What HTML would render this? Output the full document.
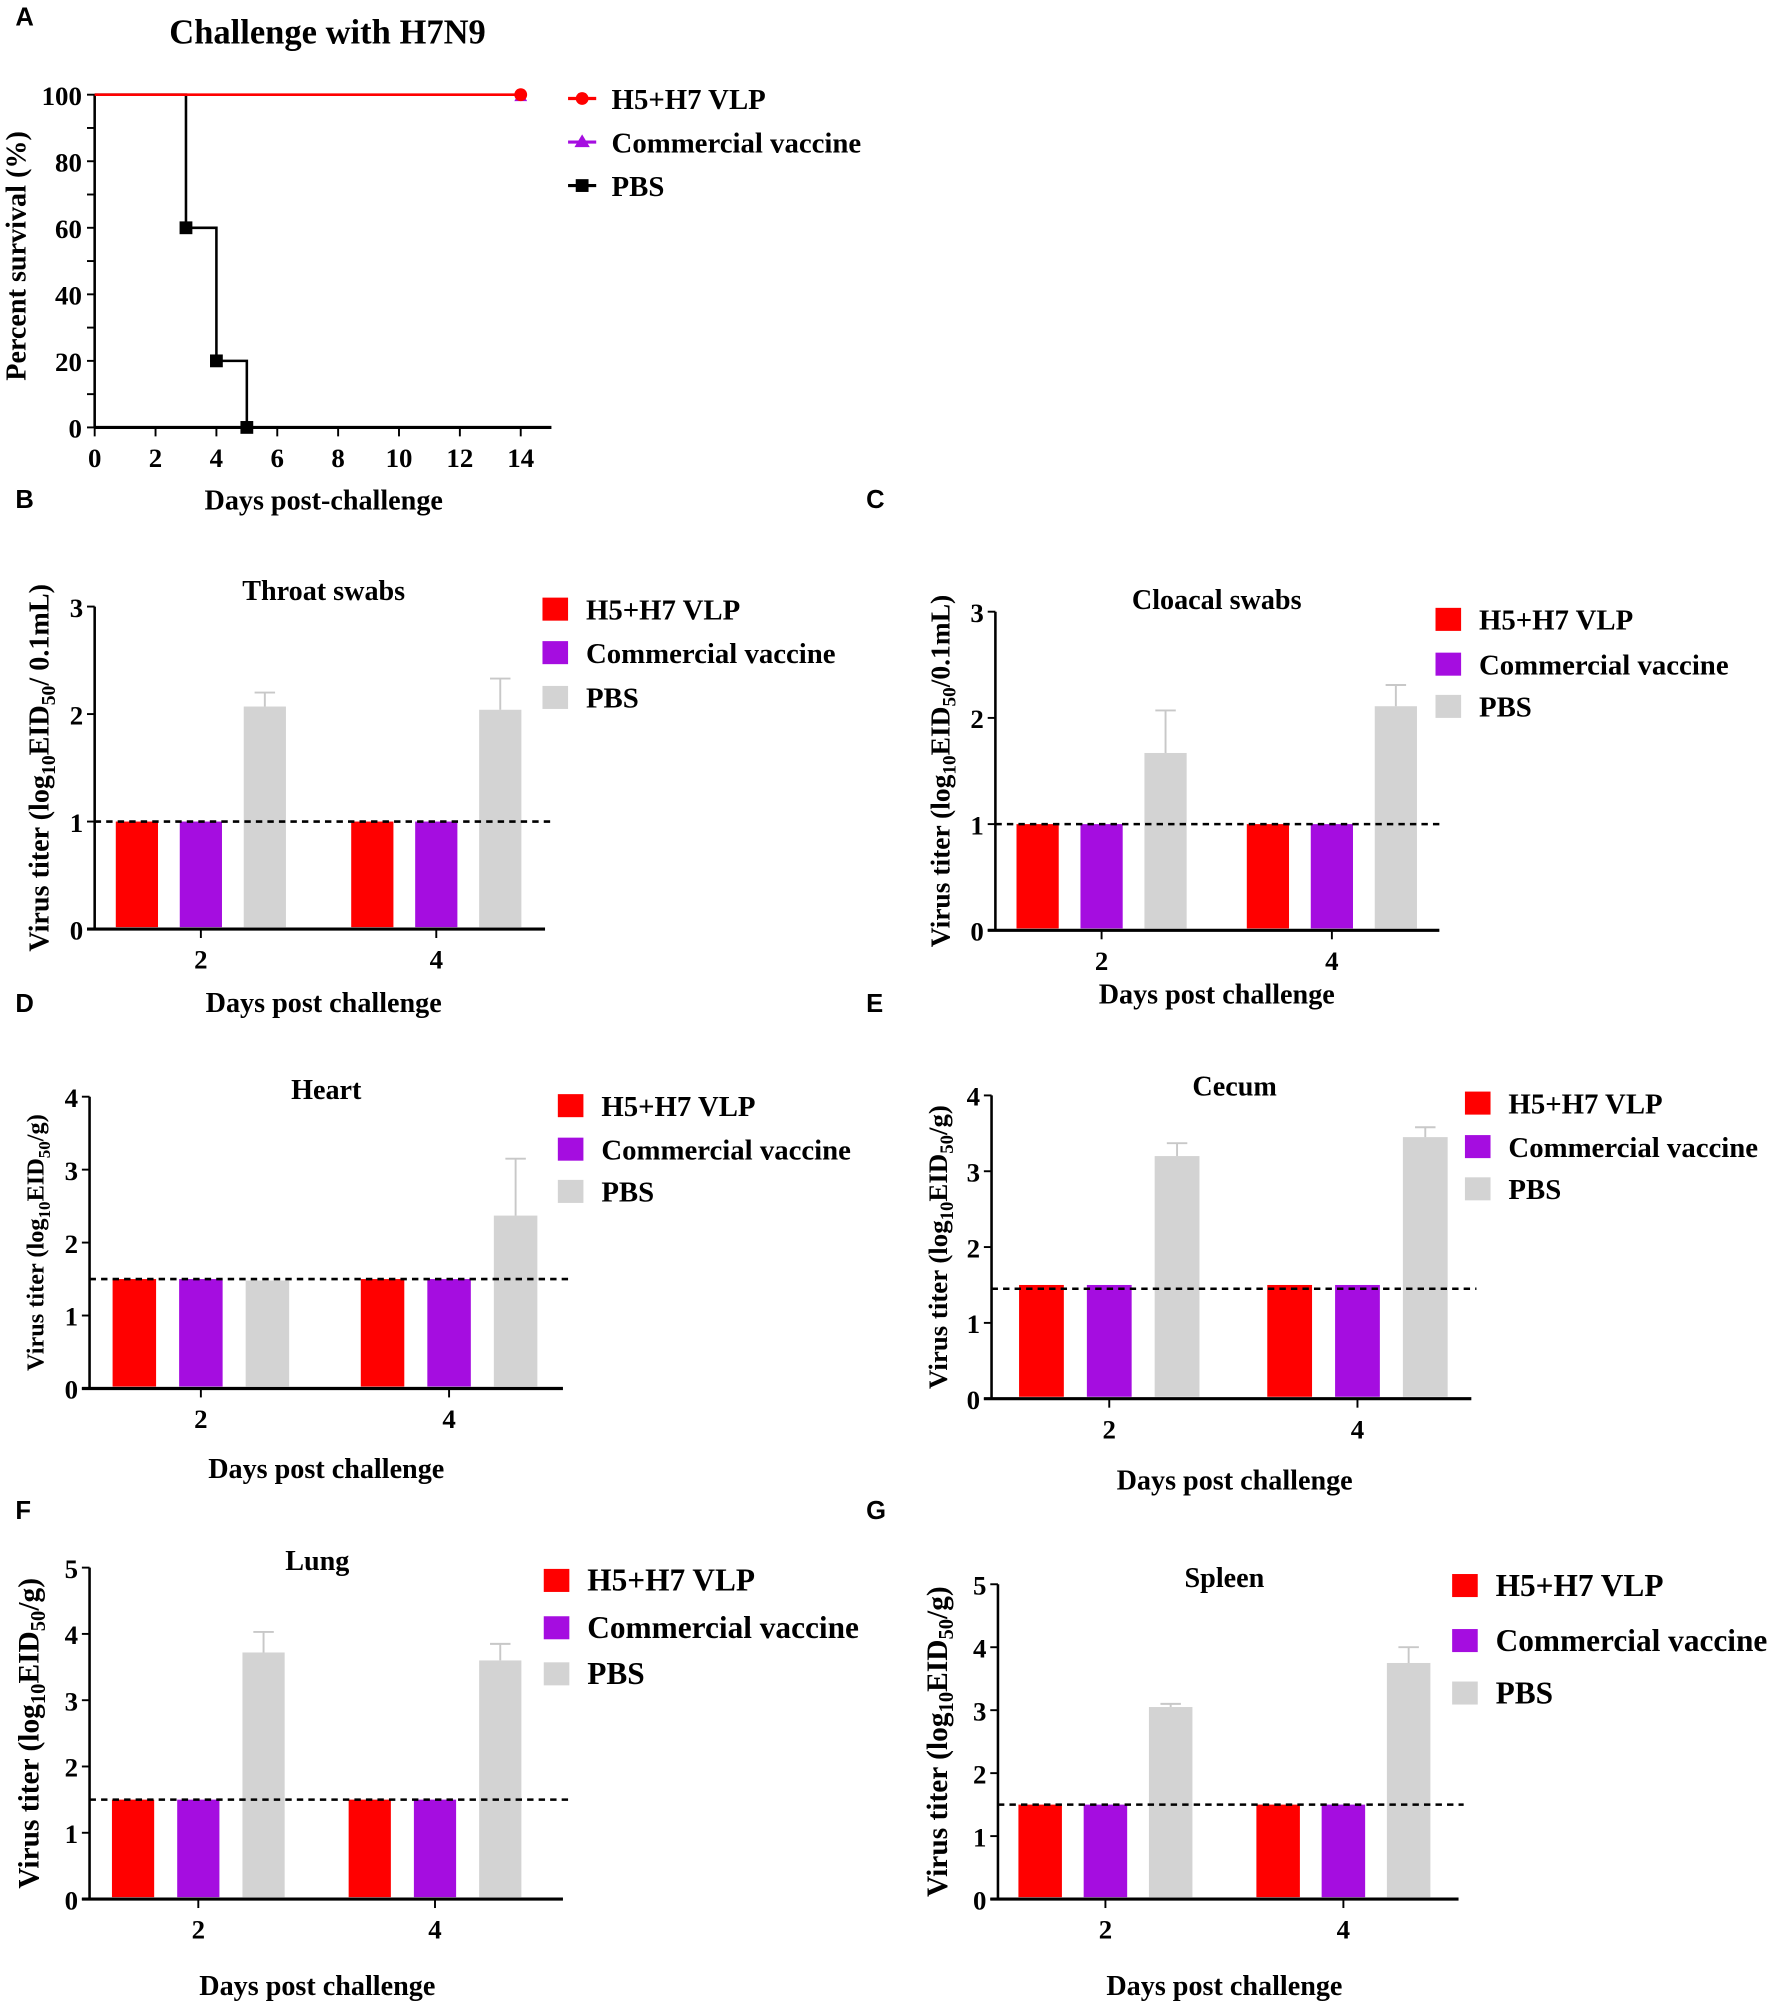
<!DOCTYPE html>
<html><head><meta charset="utf-8"><style>
html,body{margin:0;padding:0;background:#fff;}
svg{display:block;}
text{font-family:"Liberation Serif",serif;font-weight:bold;fill:#000;}
.lt{font-family:"Liberation Sans",sans-serif;font-weight:bold;font-size:20px;}
</style></head><body>
<svg id="fig" xmlns="http://www.w3.org/2000/svg" width="1772" height="2004" viewBox="0 0 1385 1566" preserveAspectRatio="none">
<text class="lt" x="12" y="20">A</text>
<text class="lt" x="12" y="397">B</text>
<text class="lt" x="677" y="397">C</text>
<text class="lt" x="12" y="791">D</text>
<text class="lt" x="677" y="791">E</text>
<text class="lt" x="12" y="1187">F</text>
<text class="lt" x="677" y="1187">G</text>
</svg>
<script>
// ---- Panel A data ----
const survDays = [0, 3, 4, 5, 14];
const pbsSurvival = [100, 60, 20, 0, 0];
const vlpSurvival = [100, 100];
const vlpDays = [0, 14];
const survXTicks = [0, 2, 4, 6, 8, 10, 12, 14];
const survYTicks = [0, 20, 40, 60, 80, 100];
// ---- Bar panels data ----
const dayCategories = ["2", "4"];
const groupNames = ["H5+H7 VLP", "Commercial vaccine", "PBS"];
const throatVlp = [1, 1], throatCom = [1, 1], throatPbs = [2.07, 2.04], throatErr = [2.2, 2.33];
const cloacalVlp = [1, 1], cloacalCom = [1, 1], cloacalPbs = [1.67, 2.11], cloacalErr = [2.07, 2.31];
const heartVlp = [1.5, 1.5], heartCom = [1.5, 1.5], heartPbs = [1.48, 2.37], heartErr = [null, 3.15];
const cecumVlp = [1.5, 1.5], cecumCom = [1.5, 1.5], cecumPbs = [3.2, 3.45], cecumErr = [3.37, 3.58];
const lungVlp = [1.5, 1.5], lungCom = [1.5, 1.5], lungPbs = [3.72, 3.6], lungErr = [4.03, 3.85];
const spleenVlp = [1.5, 1.5], spleenCom = [1.5, 1.5], spleenPbs = [3.05, 3.75], spleenErr = [3.1, 4.0];

const NS = "http://www.w3.org/2000/svg";
const svg = document.getElementById("fig");
function mk(tag, attrs, parent) {
  const e = document.createElementNS(NS, tag);
  for (const k in attrs) e.setAttribute(k, attrs[k]);
  (parent || svg).appendChild(e);
  return e;
}
function txt(x, y, s, size, anchor, parent) {
  const t = mk("text", {x: x, y: y, "font-size": size, "text-anchor": anchor || "middle"}, parent);
  t.textContent = s;
  return t;
}

// ---- Panel A ----
(function () {
  const g = mk("g", {});
  
  
  const x = d => 74 + (d / 14) * 333;
  const y = v => 334 - (v / 100) * 260;
  const title = txt(256, 34, "Challenge with H7N9", 27, "middle", g);
  
  
  mk("line", {x1: 74, y1: y(100), x2: 74, y2: 334, stroke: "#000", "stroke-width": 2}, g);
  mk("line", {x1: 74, y1: 334, x2: 431, y2: 334, stroke: "#000", "stroke-width": 2.5}, g);
  for (let v = 0; v <= 100; v += 10) mk("line", {x1: 68, y1: y(v), x2: 74, y2: y(v), stroke: "#000", "stroke-width": 1.5}, g);
  survYTicks.forEach(v => {
    const t = txt(64, y(v) + 8, String(v), 21, "end", g);
    
    
  });
  survXTicks.forEach(d => {
    mk("line", {x1: x(d), y1: 334, x2: x(d), y2: 341, stroke: "#000", "stroke-width": 1.5}, g);
    const t = txt(x(d), 365, String(d), 21, "middle", g);
    
    
  });
  const xl = txt(253, 398, "Days post-challenge", 22, "middle", g);
  
  
  const yl = txt(0, 0, "Percent survival (%)", 22, "middle", g);
  yl.setAttribute("transform", "translate(20,200) rotate(-90)");
  
  
  let d = "M" + x(survDays[0]) + "," + y(pbsSurvival[0]);
  for (let i = 1; i < survDays.length; i++) {
    d += " H" + x(survDays[i]) + " V" + y(pbsSurvival[i]);
  }
  const pl = mk("path", {d: d, fill: "none", stroke: "#000", "stroke-width": 2}, g);
  
  
  for (let i = 1; i <= 3; i++) {
    const m = mk("rect", {x: x(survDays[i]) - 5, y: y(pbsSurvival[i]) - 5, width: 10, height: 10, fill: "#000"}, g);
    
    
  }
  const rl = mk("line", {x1: x(vlpDays[0]), y1: y(vlpSurvival[0]), x2: x(vlpDays[1]), y2: y(vlpSurvival[1]), stroke: "#ff0000", "stroke-width": 2}, g);
  
  
  const tri = mk("path", {d: `M${x(14)},${y(100) - 4} l5,9 h-10z`, fill: "#a50de0"}, g);
  
  
  const c = mk("circle", {cx: x(14), cy: y(100), r: 5, fill: "#ff0000"}, g);
  
  
  const rows = [77, 111, 145];
  const cols = ["#ff0000", "#a50de0", "#000"];
  rows.forEach((ry, i) => {
    const le = mk("g", {}, g);
    
    
    mk("line", {x1: 444, y1: ry, x2: 466, y2: ry, stroke: cols[i], "stroke-width": 2.5}, le);
    if (i === 0) mk("circle", {cx: 455, cy: ry, r: 5, fill: cols[i]}, le);
    if (i === 1) mk("path", {d: `M455,${ry - 6} l6,10 h-12z`, fill: cols[i]}, le);
    if (i === 2) mk("rect", {x: 450, y: ry - 5, width: 10, height: 10, fill: cols[i]}, le);
    txt(478, ry + 8, groupNames[i], 22.5, "start", le);
  });
})();

// ---- Bar panels ----
function barPanel(o) {
  const g = mk("g", {});
  
  
  const y = v => o.y0 - v * (o.y0 - o.yTop) / o.yMax;
  const t = txt(o.tx, o.ty, o.title, 22, "middle", g);
  
  
  mk("line", {x1: o.x0, y1: o.yTop, x2: o.x0, y2: o.y0, stroke: "#000", "stroke-width": 2}, g);
  mk("line", {x1: o.x0 - 6, y1: o.y0, x2: o.xEnd, y2: o.y0, stroke: "#000", "stroke-width": 2.5}, g);
  for (let v = 0; v <= o.yMax; v++) {
    mk("line", {x1: o.x0 - 6, y1: y(v), x2: o.x0, y2: y(v), stroke: "#000", "stroke-width": 1.5}, g);
    const tl = txt(o.x0 - 9, y(v) + 8, String(v), 21, "end", g);
    
    
  }
  const series = [o.vlp, o.com, o.pbs];
  const colors = ["#ff0000", "#a50de0", "#d3d3d3"];
  dayCategories.forEach((cat, gi) => {
    const cx = o.centers[gi];
    mk("line", {x1: cx, y1: o.y0, x2: cx, y2: o.y0 + 7, stroke: "#000", "stroke-width": 1.5}, g);
    const tl = txt(cx, o.y0 + 31, cat, 21, "middle", g);
    
    
    series.forEach((s, si) => {
      const bx = cx + (si - 1) * o.sp - o.bw / 2;
      const b = mk("rect", {x: bx, y: y(s[gi]), width: o.bw, height: o.y0 - 1.5 - y(s[gi]), fill: colors[si]}, g);
      
      
    });
    const e = o.err[gi];
    if (e != null) {
      const ex = cx + o.sp;
      const eb = mk("path", {d: `M${ex},${y(o.pbs[gi])} V${y(e)} M${ex - 8},${y(e)} H${ex + 8}`, stroke: "#c8c8c8", "stroke-width": 1.5, fill: "none"}, g);
      
      
    }
  });
  const dl = mk("line", {x1: o.x0, y1: y(o.lod), x2: o.xEnd + 4, y2: y(o.lod), stroke: "#000", "stroke-width": 2, "stroke-dasharray": "5,4"}, g);
  
  
  const xl = txt(o.tx, o.xly, "Days post challenge", 22, "middle", g);
  
  
  const yl = mk("text", {"font-size": o.yfs, "text-anchor": "middle", transform: `translate(${o.ylx},${(o.y0 + o.yTop) / 2 - 0}) rotate(-90)`}, g);
  
  
  yl.innerHTML = `Virus titer (log<tspan font-size="${o.yfs * 0.7}" dy="5">10</tspan><tspan dy="-5">EID</tspan><tspan font-size="${o.yfs * 0.7}" dy="5">50</tspan><tspan dy="-5">${o.unit}</tspan>`;
  o.legRows.forEach((ry, i) => {
    const le = mk("g", {}, g);
    
    
    mk("rect", {x: o.legX, y: ry - 9, width: 20, height: 18, fill: colors[i]}, le);
    txt(o.legX + 34, ry + 8, groupNames[i], o.legFs, "start", le);
  });
}
barPanel({name: "throat-swabs-chart", title: "Throat swabs", tx: 253, ty: 469, x0: 74, xEnd: 426, y0: 726, yTop: 474, yMax: 3,
  centers: [157, 341], sp: 50, bw: 33, vlp: throatVlp, com: throatCom, pbs: throatPbs, err: throatErr, lod: 1,
  xly: 791, ylx: 38, yfs: 22, unit: "/ 0.1mL)", legX: 424, legRows: [476, 510, 545], legFs: 22.5});
barPanel({name: "cloacal-swabs-chart", title: "Cloacal swabs", tx: 951, ty: 476, x0: 778, xEnd: 1125, y0: 727, yTop: 478, yMax: 3,
  centers: [861, 1041], sp: 50, bw: 33, vlp: cloacalVlp, com: cloacalCom, pbs: cloacalPbs, err: cloacalErr, lod: 1,
  xly: 784, ylx: 742, yfs: 21.5, unit: "/0.1mL)", legX: 1122, legRows: [484, 519, 552], legFs: 22.5});
barPanel({name: "heart-chart", title: "Heart", tx: 255, ty: 859, x0: 70, xEnd: 440, y0: 1085, yTop: 857, yMax: 4,
  centers: [157, 351], sp: 52, bw: 34, vlp: heartVlp, com: heartCom, pbs: heartPbs, err: heartErr, lod: 1.5,
  xly: 1155, ylx: 34, yfs: 19, unit: "/g)", legX: 436, legRows: [864, 898, 931], legFs: 22.5});
barPanel({name: "cecum-chart", title: "Cecum", tx: 965, ty: 856, x0: 775, xEnd: 1150, y0: 1093, yTop: 856, yMax: 4,
  centers: [867, 1061], sp: 53, bw: 35, vlp: cecumVlp, com: cecumCom, pbs: cecumPbs, err: cecumErr, lod: 1.45,
  xly: 1164, ylx: 740, yfs: 21, unit: "/g)", legX: 1145, legRows: [862, 896, 929], legFs: 22.5});
barPanel({name: "lung-chart", title: "Lung", tx: 248, ty: 1227, x0: 70, xEnd: 440, y0: 1484, yTop: 1225, yMax: 5,
  centers: [155, 340], sp: 51, bw: 33, vlp: lungVlp, com: lungCom, pbs: lungPbs, err: lungErr, lod: 1.5,
  xly: 1559, ylx: 30, yfs: 23, unit: "/g)", legX: 425, legRows: [1235, 1272, 1308], legFs: 24.5});
barPanel({name: "spleen-chart", title: "Spleen", tx: 957, ty: 1240, x0: 780, xEnd: 1140, y0: 1484, yTop: 1238, yMax: 5,
  centers: [864, 1050], sp: 51, bw: 34, vlp: spleenVlp, com: spleenCom, pbs: spleenPbs, err: spleenErr, lod: 1.5,
  xly: 1559, ylx: 740, yfs: 23, unit: "/g)", legX: 1135, legRows: [1239, 1282, 1323], legFs: 24.5});
</script>
</body></html>
